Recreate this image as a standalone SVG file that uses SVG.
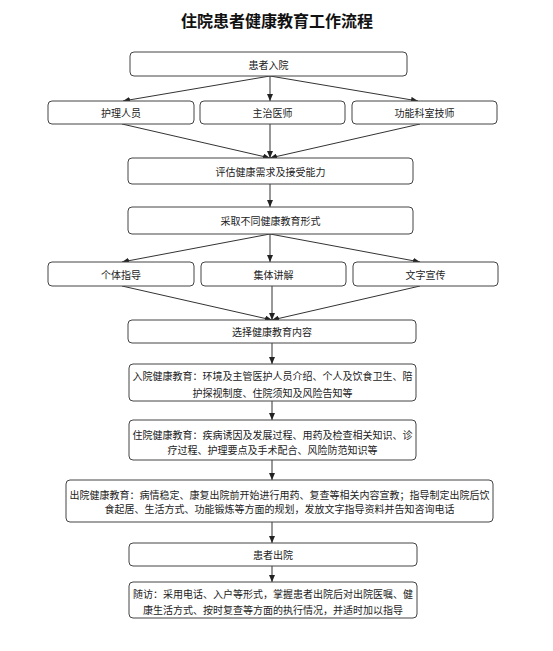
<svg xmlns="http://www.w3.org/2000/svg" width="553" height="651" viewBox="0 0 553 651">
<style>
.box{fill:#fff;stroke:#444;stroke-width:1}
.t{font-family:"Noto Sans CJK SC","Noto Sans",sans-serif;font-size:10px;fill:#222;text-anchor:middle;dominant-baseline:central}
.title{font-family:"Noto Sans CJK SC",sans-serif;font-size:16px;font-weight:bold;fill:#111;text-anchor:middle}
.c{stroke:#333;stroke-width:1;fill:none;marker-end:url(#ah)}
</style>
<defs>
<marker id="ah" markerUnits="userSpaceOnUse" markerWidth="8" markerHeight="6" refX="7" refY="3" orient="auto">
<path d="M0,0 L7,3 L0,6 z" fill="#222"/>
</marker>
</defs>
<rect width="553" height="651" fill="#fff"/>
<text class="title" x="277" y="27">住院患者健康教育工作流程</text>
<g id="connectors">
<line class="c" x1="270" y1="76" x2="123" y2="101"/>
<line class="c" x1="270" y1="76" x2="270" y2="101"/>
<line class="c" x1="270" y1="76" x2="418" y2="101"/>
<line class="c" x1="122" y1="124" x2="270" y2="158"/>
<line class="c" x1="270" y1="124" x2="270" y2="158"/>
<line class="c" x1="420" y1="124" x2="270" y2="158"/>
<line class="c" x1="270" y1="184" x2="270" y2="207"/>
<line class="c" x1="270" y1="234" x2="122" y2="262"/>
<line class="c" x1="270" y1="234" x2="270" y2="262"/>
<line class="c" x1="270" y1="234" x2="420" y2="262"/>
<line class="c" x1="122" y1="286" x2="272" y2="320"/>
<line class="c" x1="272" y1="286" x2="272" y2="320"/>
<line class="c" x1="420" y1="286" x2="272" y2="320"/>
<line class="c" x1="272" y1="343" x2="272" y2="364"/>
<line class="c" x1="272" y1="401" x2="272" y2="420"/>
<line class="c" x1="272" y1="460" x2="272" y2="480"/>
<line class="c" x1="272" y1="522" x2="272" y2="543"/>
<line class="c" x1="272" y1="566" x2="272" y2="582"/>
</g>
<g id="n1"><rect class="box" x="130" y="52" width="277" height="24" rx="4"/><text class="t" x="268.5" y="64">患者入院</text></g>
<g id="n2a"><rect class="box" x="48" y="101" width="146" height="23" rx="4"/><text class="t" x="121" y="112.5">护理人员</text></g>
<g id="n2b"><rect class="box" x="200" y="101" width="145" height="23" rx="4"/><text class="t" x="272.5" y="112.5">主治医师</text></g>
<g id="n2c"><rect class="box" x="352" y="101" width="145" height="23" rx="4"/><text class="t" x="424.5" y="112.5">功能科室技师</text></g>
<g id="n3"><rect class="box" x="128" y="158" width="285" height="26" rx="4"/><text class="t" x="270.5" y="171">评估健康需求及接受能力</text></g>
<g id="n4"><rect class="box" x="128" y="207" width="285" height="27" rx="4"/><text class="t" x="270.5" y="220.5">采取不同健康教育形式</text></g>
<g id="n5a"><rect class="box" x="48" y="262" width="146" height="24" rx="4"/><text class="t" x="121" y="274">个体指导</text></g>
<g id="n5b"><rect class="box" x="201" y="262" width="145" height="24" rx="4"/><text class="t" x="273.5" y="274">集体讲解</text></g>
<g id="n5c"><rect class="box" x="353" y="262" width="145" height="24" rx="4"/><text class="t" x="425.5" y="274">文字宣传</text></g>
<g id="n6"><rect class="box" x="128" y="320" width="288" height="23" rx="4"/><text class="t" x="272" y="331.5">选择健康教育内容</text></g>
<g id="n7"><rect class="box" x="129" y="364" width="287" height="37" rx="4"/><text class="t" x="272.5" y="375">入院健康教育：环境及主管医护人员介绍、个人及饮食卫生、陪</text><text class="t" x="272.5" y="392">护探视制度、住院须知及风险告知等</text></g>
<g id="n8"><rect class="box" x="129" y="420" width="287" height="40" rx="4"/><text class="t" x="272.5" y="434">住院健康教育：疾病诱因及发展过程、用药及检查相关知识、诊</text><text class="t" x="272.5" y="449">疗过程、护理要点及手术配合、风险防范知识等</text></g>
<g id="n9"><rect class="box" x="66" y="480" width="427" height="42" rx="4"/><text class="t" x="279.5" y="494">出院健康教育：病情稳定、康复出院前开始进行用药、复查等相关内容宣教；指导制定出院后饮</text><text class="t" x="279.5" y="508">食起居、生活方式、功能锻炼等方面的规划，发放文字指导资料并告知咨询电话</text></g>
<g id="n10"><rect class="box" x="129" y="543" width="288" height="23" rx="4"/><text class="t" x="273" y="554.5">患者出院</text></g>
<g id="n11"><rect class="box" x="129" y="582" width="288" height="36" rx="4"/><text class="t" x="273" y="593">随访：采用电话、入户等形式，掌握患者出院后对出院医嘱、健</text><text class="t" x="273" y="609">康生活方式、按时复查等方面的执行情况，并适时加以指导</text></g>
</svg>
